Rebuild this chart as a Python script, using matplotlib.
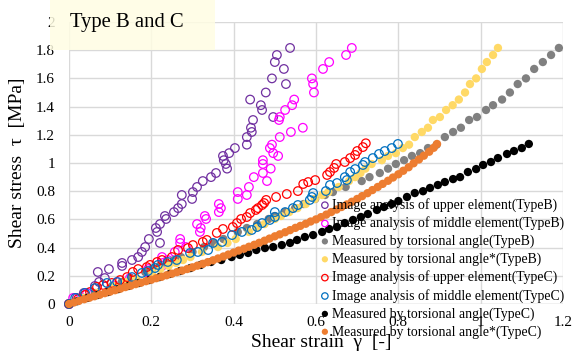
import matplotlib
matplotlib.use("Agg")
import matplotlib.pyplot as plt
from matplotlib.patches import Rectangle

plt.rcParams['font.family'] = ['Liberation Serif', 'DejaVu Serif']

# ---------------- data ----------------
# Type B: shared stress levels [MPa]
tau_B = [0, 0.043, 0.078, 0.128, 0.156, 0.184, 0.227, 0.248, 0.270, 0.291,
         0.312, 0.333, 0.369, 0.404, 0.433, 0.461, 0.511, 0.539, 0.567, 0.603,
         0.624, 0.652, 0.680, 0.709, 0.745, 0.773, 0.794, 0.830, 0.872, 0.900,
         0.929, 0.960, 0.993, 1.020, 1.050, 1.070, 1.106, 1.130, 1.184, 1.220,
         1.250, 1.305, 1.326, 1.376, 1.410, 1.450, 1.500, 1.560, 1.600, 1.667,
         1.716, 1.766, 1.816]
gam_B_upper = [0, 0.019, 0.036, 0.063, 0.073, 0.087, 0.070, 0.097, 0.129, 0.129,
               0.153, 0.168, 0.177, 0.185, 0.221, 0.194, 0.214, 0.211, 0.221, 0.236,
               0.233, 0.255, 0.265, 0.274, 0.299, 0.274, 0.301, 0.311, 0.325, 0.345,
               0.357, 0.384, 0.381, 0.376, 0.374, 0.389, 0.403, 0.432, 0.432, 0.444,
               0.442, 0.447, 0.496, 0.469, 0.466, 0.440, 0.478, 0.527, 0.493, 0.522,
               0.500, 0.505, 0.537]
gam_B_middle = [0, 0.010, 0.044, 0.112, 0.117, 0.148, 0.189, 0.192, 0.226, 0.228,
                0.240, 0.226, 0.257, 0.284, 0.270, 0.270, 0.318, 0.320, 0.311, 0.333,
                0.330, 0.364, 0.369, 0.364, 0.410, 0.432, 0.410, 0.437, 0.481, 0.449,
                0.471, 0.490, 0.471, 0.471, 0.508, 0.496, 0.488, 0.493, 0.512, 0.539,
                0.568, 0.510, 0.512, 0.525, 0.542, 0.547, 0.595, 0.593, 0.590, 0.617,
                0.632, 0.673, 0.687]
gam_B_angle = [0, 0.035, 0.063, 0.105, 0.128, 0.150, 0.185, 0.202, 0.220, 0.237,
               0.255, 0.272, 0.300, 0.328, 0.352, 0.375, 0.410, 0.432, 0.457, 0.485,
               0.500, 0.525, 0.549, 0.570, 0.598, 0.622, 0.641, 0.672, 0.711, 0.730,
               0.755, 0.775, 0.794, 0.814, 0.833, 0.853, 0.872, 0.893, 0.913, 0.933,
               0.952, 0.972, 0.991, 1.013, 1.030, 1.052, 1.071, 1.090, 1.110, 1.130,
               1.151, 1.171, 1.190]
gam_B_angle2 = [0, 0.036, 0.068, 0.112, 0.138, 0.163, 0.202, 0.222, 0.242, 0.260,
                0.277, 0.295, 0.323, 0.362, 0.385, 0.405, 0.437, 0.455, 0.475, 0.500,
                0.515, 0.535, 0.555, 0.575, 0.597, 0.615, 0.630, 0.655, 0.680, 0.695,
                0.708, 0.720, 0.735, 0.760, 0.775, 0.794, 0.811, 0.826, 0.840, 0.857,
                0.872, 0.884, 0.901, 0.916, 0.932, 0.947, 0.962, 0.974, 0.989, 1.003,
                1.015, 1.030, 1.042]

# Type C
gam_C_upper = [0, 0.022, 0.039, 0.051, 0.068, 0.083, 0.104, 0.124, 0.141, 0.155,
               0.168, 0.189, 0.197, 0.214, 0.226, 0.250, 0.265, 0.289, 0.301, 0.325,
               0.335, 0.359, 0.374, 0.398, 0.408, 0.418, 0.432, 0.440, 0.454, 0.459,
               0.469, 0.474, 0.479, 0.503, 0.529, 0.556, 0.569, 0.581, 0.598, 0.627,
               0.634, 0.644, 0.649, 0.670, 0.683, 0.695, 0.700, 0.714, 0.721]
tau_C_upper = [0, 0.035, 0.064, 0.085, 0.121, 0.135, 0.149, 0.170, 0.191, 0.227,
               0.248, 0.262, 0.277, 0.298, 0.312, 0.333, 0.383, 0.397, 0.418, 0.440,
               0.454, 0.504, 0.532, 0.546, 0.574, 0.603, 0.617, 0.645, 0.667, 0.680,
               0.702, 0.716, 0.738, 0.759, 0.780, 0.801, 0.851, 0.865, 0.879, 0.915,
               0.936, 0.965, 0.993, 1.007, 1.035, 1.057, 1.085, 1.113, 1.140]
gam_C_middle = [0, 0.015, 0.039, 0.063, 0.092, 0.117, 0.153, 0.177, 0.192, 0.209,
                0.216, 0.240, 0.262, 0.294, 0.313, 0.338, 0.350, 0.372, 0.396, 0.420,
                0.444, 0.457, 0.469, 0.488, 0.500, 0.500, 0.525, 0.544, 0.556, 0.585,
                0.590, 0.593, 0.624, 0.634, 0.651, 0.675, 0.670, 0.683, 0.695, 0.714,
                0.719, 0.738, 0.753, 0.767, 0.784, 0.799]
tau_C_middle = [0, 0.043, 0.078, 0.113, 0.149, 0.156, 0.191, 0.220, 0.234, 0.255,
                0.277, 0.298, 0.312, 0.362, 0.369, 0.383, 0.433, 0.440, 0.489, 0.511,
                0.525, 0.546, 0.574, 0.596, 0.617, 0.652, 0.652, 0.680, 0.702, 0.738,
                0.759, 0.787, 0.801, 0.844, 0.858, 0.879, 0.900, 0.936, 0.957, 0.986,
                1.007, 1.035, 1.064, 1.085, 1.106, 1.135]
gam_C_angle = [0, 0.020, 0.045, 0.070, 0.095, 0.120, 0.145, 0.170, 0.195, 0.220,
               0.245, 0.270, 0.295, 0.320, 0.345, 0.370, 0.395, 0.415, 0.435, 0.455,
               0.476, 0.496, 0.517, 0.537, 0.554, 0.573, 0.593, 0.615, 0.632, 0.651,
               0.670, 0.690, 0.709, 0.726, 0.748, 0.765, 0.784, 0.800, 0.821, 0.840,
               0.860, 0.877, 0.896, 0.913, 0.933, 0.950, 0.969, 0.989, 1.006, 1.025,
               1.042, 1.064, 1.081, 1.100, 1.117]
tau_C_angle = [0, 0.020, 0.043, 0.064, 0.085, 0.106, 0.128, 0.149, 0.170, 0.191,
               0.213, 0.234, 0.255, 0.277, 0.298, 0.312, 0.333, 0.348, 0.362, 0.383,
               0.397, 0.404, 0.418, 0.433, 0.454, 0.475, 0.489, 0.511, 0.532, 0.546,
               0.574, 0.596, 0.617, 0.638, 0.667, 0.688, 0.709, 0.730, 0.759, 0.787,
               0.800, 0.823, 0.844, 0.865, 0.886, 0.900, 0.936, 0.957, 0.986, 1.007,
               1.035, 1.064, 1.085, 1.106, 1.135]
gam_C_angle2 = [0, 0.012, 0.024, 0.037, 0.050, 0.062, 0.075, 0.087, 0.100,
                0.112, 0.125, 0.137, 0.150, 0.162, 0.175, 0.187, 0.200,
                0.212, 0.225, 0.237, 0.250, 0.262, 0.275, 0.287, 0.300,
                0.312, 0.325, 0.337, 0.350, 0.362, 0.375, 0.387, 0.400,
                0.412, 0.425, 0.437, 0.450, 0.462, 0.475, 0.487, 0.500,
                0.512, 0.525, 0.537, 0.550, 0.562, 0.575, 0.587, 0.600,
                0.612, 0.625, 0.637, 0.650, 0.662, 0.675, 0.687, 0.700,
                0.712, 0.725, 0.737, 0.750, 0.762, 0.775, 0.787, 0.800,
                0.812, 0.825, 0.837, 0.850, 0.862, 0.875, 0.886, 0.894]
tau_C_angle2 = [0, 0.011, 0.022, 0.034, 0.045, 0.055, 0.066, 0.077, 0.088,
                0.098, 0.109, 0.120, 0.130, 0.141, 0.151, 0.162, 0.172,
                0.183, 0.193, 0.204, 0.215, 0.226, 0.237, 0.248, 0.260,
                0.272, 0.285, 0.297, 0.310, 0.323, 0.337, 0.351, 0.365,
                0.379, 0.392, 0.406, 0.420, 0.434, 0.449, 0.464, 0.480,
                0.494, 0.509, 0.524, 0.540, 0.554, 0.569, 0.585, 0.600,
                0.616, 0.634, 0.652, 0.670, 0.688, 0.706, 0.725, 0.745,
                0.765, 0.786, 0.808, 0.830, 0.852, 0.874, 0.897, 0.920,
                0.945, 0.970, 0.998, 1.025, 1.052, 1.080, 1.108, 1.135]

labels = ["Image analysis of upper element(TypeB)",
          "Image analysis of middle element(TypeB)",
          "Measured by torsional angle(TypeB)",
          "Measured by torsional angle*(TypeB)",
          "Image analysis of upper element(TypeC)",
          "Image analysis of middle element(TypeC)",
          "Measured by torsional angle(TypeC)",
          "Measured by torsional angle*(TypeC)"]

x_ticks = [0, 0.2, 0.4, 0.6, 0.8, 1.0, 1.2]
x_tick_labels = ["0", "0.2", "0.4", "0.6", "0.8", "1", "1.2"]
y_ticks = [0, 0.2, 0.4, 0.6, 0.8, 1.0, 1.2, 1.4, 1.6, 1.8, 2.0]
y_tick_labels = ["0", "0.2", "0.4", "0.6", "0.8", "1", "1.2", "1.4", "1.6", "1.8", "2"]

# ---------------- figure ----------------
fig = plt.figure(figsize=(5.84, 3.54), dpi=100)
ax = fig.add_axes([69/584, 1-304/354, 494/584, 282/354])

series = [
    (gam_B_upper, tau_B, '#7030A0', False),
    (gam_B_middle, tau_B, '#FF00FF', False),
    (gam_B_angle, tau_B, '#808080', True),
    (gam_B_angle2, tau_B, '#FFD966', True),
    (gam_C_upper, tau_C_upper, '#FF0000', False),
    (gam_C_middle, tau_C_middle, '#0070C0', False),
    (gam_C_angle, tau_C_angle, '#000000', True),
    (gam_C_angle2, tau_C_angle2, '#ED7D31', True),
]
for i, ((xs, ys, c, filled), lab) in enumerate(zip(series, labels)):
    if filled:
        ax.scatter(xs, ys, s=36, color=c, edgecolors='none', label=lab,
                   zorder=3 + i, clip_on=False)
    else:
        ax.scatter(xs, ys, s=38, facecolors='none', edgecolors=c,
                   linewidths=0.9, label=lab, zorder=3 + i, clip_on=False)

ax.set_xlim(0, 1.2)
ax.set_ylim(0, 2.0)
ax.set_xticks(x_ticks)
ax.set_xticklabels(x_tick_labels)
ax.set_yticks(y_ticks)
ax.set_yticklabels(y_tick_labels)
ax.tick_params(axis='both', length=0, labelsize=11, colors='black')
ax.tick_params(axis='y', pad=10)
ax.tick_params(axis='x', pad=9)
ax.grid(True, color='#D9D9D9', linewidth=1.0, zorder=0)
ax.set_axisbelow(True)
for s in ax.spines.values():
    s.set_visible(False)
ax.axhline(0, color='#D9D9D9', linewidth=1.0, zorder=1)

ax.set_xlabel("Shear strain  \u03b3  [-]", fontsize=14)
ax.xaxis.set_label_coords(0.51, -0.105)
ax.set_ylabel("Shear stress  \u03c4  [MPa]", fontsize=14)
ax.yaxis.set_label_coords(-0.088, 0.5)

leg = ax.legend(loc='upper left', bbox_to_anchor=((318-69)/494, (304-198)/282),
                frameon=False, fontsize=9.9, handletextpad=0.05,
                labelspacing=0.32, borderaxespad=0, borderpad=0,
                handlelength=1.0, markerscale=0.75)
leg.set_zorder(20)

# title box
fig.add_artist(Rectangle((50/584, 1-50/354), 165/584, 50/354,
                         transform=fig.transFigure, facecolor='#FFFDE3',
                         edgecolor='none', alpha=0.85, zorder=30))
fig.text(70/584, 1-22/354, "Type B and C", fontsize=14.9, va='center',
         ha='left', zorder=31)

fig.savefig("out.png", dpi=100)
